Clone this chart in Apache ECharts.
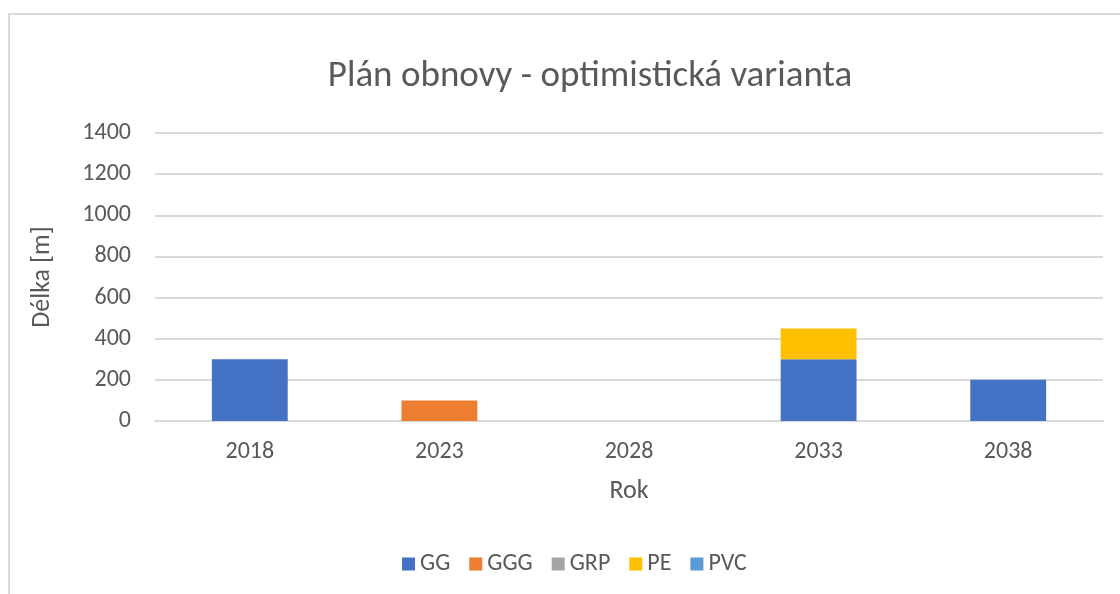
<!DOCTYPE html>
<html>
<head>
<meta charset="utf-8">
<script src="https://cdn.jsdelivr.net/npm/echarts@6/dist/echarts.min.js"></script>
<style>
  html, body { margin: 0; padding: 0; background: #fff; }
  #chart { width: 1120px; height: 594px; }
</style>
</head>
<body>
<div id="chart"></div>
<script>
var myChart = echarts.init(document.getElementById('chart'));

// data
var years = ['2018', '2023', '2028', '2033', '2038'];
var seriesNames = ['GG', 'GGG', 'GRP', 'PE', 'PVC'];
var gg = [300, 0, 0, 300, 200];
var ggg = [0, 100, 0, 0, 0];
var grp = [0, 0, 0, 0, 0];
var pe = [0, 0, 0, 150, 0];
var pvc = [0, 0, 0, 0, 0];
var values = [gg, ggg, grp, pe, pvc];

var cs = ['#4472C4', '#ED7D31', '#A5A5A5', '#FFC000', '#5B9BD5'];
var font = 'Calibri, Carlito, "Open Sans", "Noto Sans", sans-serif';

var option = {
    color: cs,
    textStyle: { fontFamily: font },
    graphic: [{
        type: 'rect',
        shape: { x: 9, y: 14, width: 1200, height: 700 },
        style: { fill: 'none', stroke: '#d9d9d9', lineWidth: 2 },
        silent: true
    }],
    title: {
        text: 'Plán obnovy - optimistická varianta',
        left: 585,
        top: 53,
        textAlign: 'center',
        textStyle: {
            color: '#595959',
            fontSize: 37,
            fontWeight: 'normal',
            fontFamily: font
        }
    },
    legend: {
        top: 547,
        left: 397,
        orient: 'horizontal',
        itemWidth: 13,
        itemHeight: 13,
        itemGap: 19,
        icon: 'rect',
        textStyle: { fontSize: 24, color: '#595959', fontFamily: font },
        data: seriesNames
    },
    grid: {
        left: 155,
        right: 17,
        top: 133,
        bottom: 173
    },
    xAxis: {
        type: 'category',
        data: years,
        name: 'Rok',
        nameLocation: 'middle',
        nameGap: 57,
        nameTextStyle: { fontSize: 26, color: '#595959' },
        axisLabel: { fontSize: 24, color: '#595959', margin: 19 },
        axisLine: { lineStyle: { color: '#d9d9d9', width: 2 } },
        axisTick: { show: false }
    },
    yAxis: {
        type: 'value',
        min: 0,
        max: 1400,
        interval: 200,
        name: 'Délka [m]',
        nameLocation: 'middle',
        nameGap: 100,
        nameTextStyle: { fontSize: 26, color: '#595959' },
        axisLabel: {
            fontSize: 24, color: '#595959', margin: 24,
            formatter: function (v) { return String(v); }
        },
        axisLine: { show: false },
        axisTick: { show: false },
        splitLine: { lineStyle: { color: '#d9d9d9', width: 2 } }
    },
    series: []
};

for (var i = 0; i < seriesNames.length; i++) {
    option.series.push({
        name: seriesNames[i],
        type: 'bar',
        stack: 'total',
        barWidth: '40%',
        data: values[i]
    });
}

myChart.setOption(option);
</script>
</body>
</html>
